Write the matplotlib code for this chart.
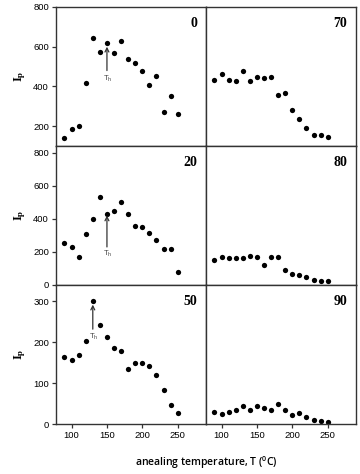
import matplotlib
matplotlib.use("Agg")
import matplotlib.pyplot as plt

plt.rcParams['mathtext.fontset'] = 'custom'
plt.rcParams['mathtext.rm'] = 'Liberation Serif'
plt.rcParams['mathtext.bf'] = 'Liberation Serif:bold'
plt.rcParams['mathtext.it'] = 'Liberation Serif:italic'

T = [90, 100, 110, 120, 130, 140, 150, 160, 170, 180, 190, 200, 210, 220, 230, 240, 250]

ip_0 = [140, 185, 203, 418, 644, 575, 617, 567, 627, 539, 518, 480, 406, 455, 269, 351, 262]
ip_20 = [255, 229, 170, 309, 399, 531, 431, 445, 501, 427, 357, 353, 317, 269, 219, 215, 76]
ip_50 = [164, 157, 169, 204, 300, 243, 213, 187, 179, 135, 150, 148, 141, 119, 83, 47, 28]
ip_70 = [433, 465, 433, 425, 477, 425, 448, 443, 445, 358, 366, 280, 237, 190, 157, 153, 143]
ip_80 = [150, 170, 164, 162, 164, 176, 168, 122, 172, 172, 88, 68, 62, 46, 28, 22, 22]
ip_90 = [29, 25, 29, 34, 43, 34, 43, 38, 35, 50, 34, 21, 26, 16, 10, 7, 5]

labels = ["0", "70", "20", "80", "50", "90"]
series = [ip_0, ip_70, ip_20, ip_80, ip_50, ip_90]
row_ylim = [(100, 800), (0, 840), (0, 340)]
row_yticks = [[200, 400, 600, 800], [0, 200, 400, 600, 800], [0, 100, 200, 300]]
xticks = [100, 150, 200, 250]

# T_h arrows: (row, x, y_tail, y_head, label_y)
arrows = [(0, 150, 480, 600, 440), (1, 150, 230, 420, 190), (2, 130, 232, 292, 212)]

W, H = 360, 474
fig = plt.figure(figsize=(W / 100, H / 100), dpi=100)

lefts = [56, 206]
tops = [7, 146, 285]
pw, ph = 150, 139

axes = {}
for r in range(3):
    for c in range(2):
        l = lefts[c] / W
        b = (H - tops[r] - ph) / H
        ax = fig.add_axes([l, b, pw / W, ph / H])
        axes[(r, c)] = ax
        idx = r * 2 + c
        ax.plot(T, series[idx], 'o', color='black', markersize=3.8, markeredgewidth=0)
        ax.set_xlim(78, 290)
        ax.set_ylim(*row_ylim[r])
        for s in ax.spines.values():
            s.set_linewidth(1.0)
            s.set_color('#333333')
        ax.text(0.94, 0.93, labels[idx], transform=ax.transAxes, ha='right', va='top',
                fontsize=10, fontweight='bold', family='Liberation Serif')
        ax.tick_params(direction='out', length=3, width=0.9, color='#333333',
                       labelsize=6.8, pad=2)
        if c == 0:
            ax.set_yticks(row_yticks[r])
            ax.set_yticklabels([str(v) for v in row_yticks[r]], family='Liberation Sans')
            ax.set_ylabel(r'$\mathbf{I_p}$', fontsize=9, labelpad=4)
        else:
            ax.set_yticks([])
        if r == 2:
            ax.set_xticks(xticks)
            ax.set_xticklabels([str(v) for v in xticks], family='Liberation Sans')
        else:
            ax.set_xticks([])

for (r, x, y0, y1, ly) in arrows:
    ax = axes[(r, 0)]
    ax.annotate('', xy=(x, y1), xytext=(x, y0),
                arrowprops=dict(arrowstyle='->', color='#333333', lw=0.9,
                                shrinkA=0, shrinkB=0, mutation_scale=7))
    ax.text(x + 1, ly, r'T$_\mathregular{h}$', fontsize=5.5, ha='center', va='center',
            color='#444444', family='Liberation Sans')

fig.text((56 + 356) / 2 / W, 1 - 463 / H, r'anealing temperature, T ($^\mathregular{0}$C)',
         ha='center', va='center', fontsize=7.5, family='Open Sans', fontweight='semibold')

fig.savefig('out.png', dpi=100)
